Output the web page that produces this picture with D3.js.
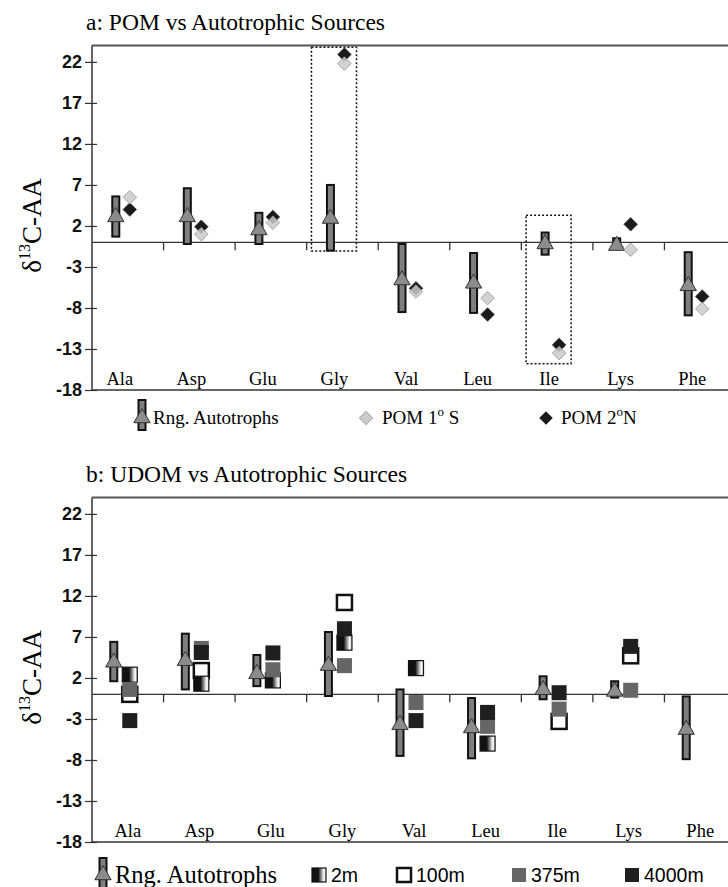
<!DOCTYPE html>
<html>
<head>
<meta charset="utf-8">
<script src="https://cdn.jsdelivr.net/npm/d3@7"></script>
<style>
  body { margin: 0; background: #fff; }
  svg { display: block; }
</style>
</head>
<body>
<svg id="chart" width="728" height="887"></svg>
<script>
// categories and ticks
const aminoAcids = ['Ala', 'Asp', 'Glu', 'Gly', 'Val', 'Leu', 'Ile', 'Lys', 'Phe'];
const yTicks = [22, 17, 12, 7, 2, -3, -8, -13, -18];

// panel a: autotroph range and POM
const autoLowA  = [0.7, -0.2, -0.2, -1.0, -8.5, -8.6, -1.5, -0.7, -8.9];
const autoHighA = [5.6, 6.6, 3.6, 7.0, -0.2, -1.3, 1.2, 0.5, -1.2];
const autoMeanA = [3.1, 3.1, 1.5, 2.9, -4.6, -5.0, -0.2, -0.4, -5.3];
const pom1S = [5.5, 1.0, 2.4, 21.8, -6.0, -6.8, -13.5, -0.9, -8.1];
const pom2N = [4.0, 1.9, 3.1, 22.9, -5.6, -8.8, -12.5, 2.2, -6.6];
const boxedAA = ['Gly', 'Ile'];
const boxedLow = [-1.05, -14.8];
const boxedHigh = [23.8, 3.3];

// panel b: autotroph range and UDOM by depth
const autoLowB  = [1.6, 0.6, 1.0, -0.2, -7.5, -7.8, -0.6, -0.4, -7.9];
const autoHighB = [6.4, 7.4, 4.8, 7.6, 0.6, -0.45, 2.2, 1.6, -0.25];
const autoMeanB = [3.9, 4.1, 2.5, 3.5, -3.7, -4.1, 0.55, 0.35, -4.3];
const udom2m    = [2.4, 1.3, 1.7, 6.3, 3.2, -6.0, null, null, null];
const udom100m  = [0.0, 2.9, null, 11.2, null, null, -3.3, 4.7, null];
const udom375m  = [0.6, 5.6, 3.0, 3.5, -1.0, -3.9, -1.8, 0.5, null];
const udom4000m = [-3.2, 5.1, 5.05, 8.0, -3.2, -2.2, 0.2, 5.85, null];

const svg = d3.select('#chart');
const serif = '"Liberation Serif", "Times New Roman", serif';
const sans = '"Liberation Sans", Arial, sans-serif';

const defs = svg.append('defs');
const grad = defs.append('linearGradient').attr('id', 'grad2m')
  .attr('x1', '0%').attr('x2', '100%').attr('y1', '0%').attr('y2', '0%');
grad.append('stop').attr('offset', '0%').attr('stop-color', '#111');
grad.append('stop').attr('offset', '45%').attr('stop-color', '#111');
grad.append('stop').attr('offset', '85%').attr('stop-color', '#fff');
grad.append('stop').attr('offset', '100%').attr('stop-color', '#ccc');

const x = d3.scaleBand().domain(aminoAcids).range([92, 736]).padding(0);
const cx = d => x(d) + x.bandwidth() / 2;

const triangle = d3.symbol(d3.symbolTriangle, 115);
const diamond = d3.symbol(d3.symbolSquare, 92);

function drawPanel(top, opts) {
  const y = d3.scaleLinear().domain([-18, 24]).range([top + 345, top + 0.5]);
  const g = svg.append('g');

  // title
  g.append('text')
    .attr('x', 86).attr('y', top - 15)
    .attr('font-family', serif).attr('font-size', 23.5)
    .text(opts.title);

  // frame
  g.append('line').attr('x1', 92).attr('x2', 728).attr('y1', y(24)).attr('y2', y(24))
    .attr('stroke', '#555').attr('stroke-width', 2);
  g.append('line').attr('x1', 92).attr('x2', 728).attr('y1', y(-18)).attr('y2', y(-18))
    .attr('stroke', '#333').attr('stroke-width', 1.5);
  g.append('line').attr('x1', 92).attr('x2', 728).attr('y1', y(0)).attr('y2', y(0))
    .attr('stroke', '#333').attr('stroke-width', 1.3);

  // y axis
  const yAxis = g.append('g').attr('transform', 'translate(92,0)')
    .call(d3.axisLeft(y).tickValues(yTicks).tickFormat(d => String(d)).tickSize(7).tickPadding(3));
  yAxis.select('.domain').attr('stroke', '#333').attr('stroke-width', 1.5)
    .attr('d', `M0,${y(24)}V${y(-18)}`);
  yAxis.selectAll('.tick line').attr('x1', 5).attr('stroke', '#333').attr('stroke-width', 1.2);
  yAxis.selectAll('.tick text')
    .attr('font-family', sans).attr('font-weight', 'bold').attr('font-size', 18)
    .attr('fill', '#111');

  // category ticks on zero line
  g.selectAll('.xtick').data(aminoAcids.slice(1)).join('line')
    .attr('x1', d => x(d)).attr('x2', d => x(d))
    .attr('y1', y(0)).attr('y2', y(0) + 8)
    .attr('stroke', '#333').attr('stroke-width', 1.3);

  // category labels
  g.selectAll('.xlab').data(aminoAcids).join('text')
    .attr('x', d => cx(d) + opts.labelDx).attr('y', y(-18) - 5)
    .attr('text-anchor', 'middle')
    .attr('font-family', serif).attr('font-size', 18.5)
    .text(d => d);

  // y label
  const yl = g.append('text')
    .attr('transform', `translate(41,${y(0) - 17}) rotate(-90)`)
    .attr('text-anchor', 'middle')
    .attr('font-family', serif).attr('font-size', 27);
  yl.append('tspan').text('δ');
  yl.append('tspan').attr('dy', -11).attr('font-size', 16).text('13');
  yl.append('tspan').attr('dy', 11).text('C-AA');

  // range bars + means
  const bars = aminoAcids.map((aa, i) => ({aa, lo: opts.low[i], hi: opts.high[i], mean: opts.mean[i]}));
  g.selectAll('.rng').data(bars).join('rect')
    .attr('x', d => cx(d.aa) + opts.barDx - 3.5)
    .attr('y', d => y(d.hi))
    .attr('width', 7)
    .attr('height', d => y(d.lo) - y(d.hi))
    .attr('fill', '#7f7f7f').attr('stroke', '#111').attr('stroke-width', 2);
  g.selectAll('.mean').data(bars).join('path')
    .attr('d', triangle)
    .attr('transform', d => `translate(${cx(d.aa) + opts.barDx},${y(d.mean)})`)
    .attr('fill', '#8c8c8c').attr('stroke', '#333').attr('stroke-width', 1);

  return {g, y};
}

// ---------- panel a ----------
const pa = drawPanel(45, {
  title: 'a: POM vs Autotrophic Sources', labelDx: -8, barDx: -12,
  low: autoLowA, high: autoHighA, mean: autoMeanA
});

pa.g.selectAll('.box').data(boxedAA).join('rect')
  .attr('x', d => cx(d) - 31)
  .attr('y', (d, i) => pa.y(boxedHigh[i]))
  .attr('width', 45)
  .attr('height', (d, i) => pa.y(boxedLow[i]) - pa.y(boxedHigh[i]))
  .attr('fill', 'none').attr('stroke', '#111').attr('stroke-width', 1.5)
  .attr('stroke-dasharray', '2,2');

pa.g.selectAll('.p2n').data(aminoAcids.map((aa, i) => ({aa, v: pom2N[i]}))).join('path')
  .attr('d', diamond)
  .attr('transform', d => `translate(${cx(d.aa) + 2},${pa.y(d.v)}) rotate(45)`)
  .attr('fill', '#1a1a1a').attr('stroke', '#444').attr('stroke-width', 0.8);
pa.g.selectAll('.p1s').data(aminoAcids.map((aa, i) => ({aa, v: pom1S[i]}))).join('path')
  .attr('d', diamond)
  .attr('transform', d => `translate(${cx(d.aa) + 2},${pa.y(d.v)}) rotate(45)`)
  .attr('fill', '#cacaca').attr('stroke', '#9a9a9a').attr('stroke-width', 0.8)
  .attr('fill-opacity', 0.85);

// legend a
const la = svg.append('g');
la.append('rect').attr('x', 138.5).attr('y', 400).attr('width', 7).attr('height', 30)
  .attr('fill', '#7f7f7f').attr('stroke', '#111').attr('stroke-width', 2);
la.append('path').attr('d', triangle).attr('transform', 'translate(142,418)')
  .attr('fill', '#8c8c8c').attr('stroke', '#333');
la.append('text').attr('x', 153).attr('y', 424).attr('font-family', serif).attr('font-size', 19)
  .text('Rng. Autotrophs');
la.append('path').attr('d', diamond).attr('transform', 'translate(366,418) rotate(45)')
  .attr('fill', '#cacaca').attr('stroke', '#9a9a9a').attr('stroke-width', 0.8);
const t1 = la.append('text').attr('x', 382).attr('y', 424).attr('font-family', serif).attr('font-size', 19);
t1.append('tspan').text('POM 1');
t1.append('tspan').attr('dy', -8).attr('font-size', 13).text('o');
t1.append('tspan').attr('dy', 8).text(' S');
la.append('path').attr('d', diamond).attr('transform', 'translate(546,418) rotate(45)')
  .attr('fill', '#1a1a1a');
const t2 = la.append('text').attr('x', 561).attr('y', 424).attr('font-family', serif).attr('font-size', 19);
t2.append('tspan').text('POM 2');
t2.append('tspan').attr('dy', -8).attr('font-size', 13).text('o');
t2.append('tspan').attr('dy', 8).text('N');

// ---------- panel b ----------
const pb = drawPanel(497, {
  title: 'b: UDOM vs Autotrophic Sources', labelDx: 0, barDx: -14,
  low: autoLowB, high: autoHighB, mean: autoMeanB
});

const depthSeries = [
  {vals: udom100m, fill: '#fff', stroke: '#111', sw: 2.5},
  {vals: udom2m, fill: 'url(#grad2m)', stroke: '#111', sw: 1.2},
  {vals: udom375m, fill: '#666', stroke: 'none', sw: 0},
  {vals: udom4000m, fill: '#1f1f1f', stroke: 'none', sw: 0}
];
depthSeries.forEach(s => {
  const pts = aminoAcids.map((aa, i) => ({aa, v: s.vals[i]})).filter(d => d.v != null);
  pb.g.append('g').selectAll('rect').data(pts).join('rect')
    .attr('x', d => cx(d.aa) + 2 - 7.5)
    .attr('y', d => pb.y(d.v) - 7.5)
    .attr('width', 15).attr('height', 15)
    .attr('fill', s.fill).attr('stroke', s.stroke).attr('stroke-width', s.sw);
});

// legend b
const lb = svg.append('g');
lb.append('rect').attr('x', 99.5).attr('y', 858).attr('width', 7).attr('height', 34)
  .attr('fill', '#7f7f7f').attr('stroke', '#111').attr('stroke-width', 2);
lb.append('path').attr('d', triangle).attr('transform', 'translate(103,875)')
  .attr('fill', '#8c8c8c').attr('stroke', '#333');
lb.append('text').attr('x', 115).attr('y', 883).attr('font-family', serif).attr('font-size', 24.5)
  .text('Rng. Autotrophs');
const legB = [
  {x: 312, label: '2m', fill: 'url(#grad2m)', stroke: '#111', sw: 1.2},
  {x: 397, label: '100m', fill: '#fff', stroke: '#111', sw: 2.5},
  {x: 512, label: '375m', fill: '#666', stroke: 'none', sw: 0},
  {x: 625, label: '4000m', fill: '#1f1f1f', stroke: 'none', sw: 0}
];
lb.selectAll('rect.k').data(legB).join('rect').attr('class', 'k')
  .attr('x', d => d.x).attr('y', 868).attr('width', 14).attr('height', 14)
  .attr('fill', d => d.fill).attr('stroke', d => d.stroke).attr('stroke-width', d => d.sw);
lb.selectAll('text.k').data(legB).join('text').attr('class', 'k')
  .attr('x', d => d.x + 19).attr('y', 882)
  .attr('font-family', sans).attr('font-size', 19.5)
  .text(d => d.label);
</script>
</body>
</html>
